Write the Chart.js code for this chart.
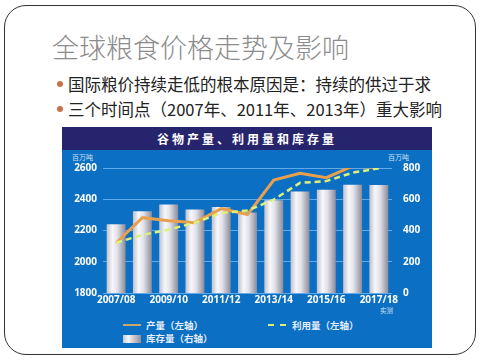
<!DOCTYPE html>
<html>
<head>
<meta charset="utf-8">
<script src="https://cdn.jsdelivr.net/npm/chart.js@4/dist/chart.umd.min.js"></script>
<style>
  body { margin: 0; width: 480px; height: 360px; background: #fff; position: relative; overflow: hidden;
         font-family: "Noto Sans CJK SC", "Noto Sans", sans-serif; }
  .slide { position: absolute; left: 4px; top: 5px; width: 470px; height: 348px;
           border: 1.5px solid #333; border-radius: 22px; }
  .title { position: absolute; left: 52px; top: 27px; font-size: 27px; color: #8c8c8c; font-weight: 300; }
  .bullet { position: absolute; left: 68px; font-size: 16.5px; color: #222; white-space: nowrap; }
  .bullet::before { content: ""; position: absolute; left: -11px; top: 9px; width: 6px; height: 6px;
                    border-radius: 50%; background: #c8734a; }
  .box { position: absolute; left: 62px; top: 127px; width: 370px; height: 221px; background: #0b6fc3; }
  .head { position: absolute; left: 0; top: 0; width: 370px; height: 23px; background: #27246e;
          color: #fff; font-size: 12px; font-weight: bold; text-align: center; line-height: 23px; letter-spacing: 3px; }
  .unit { position: absolute; top: 25px; font-size: 7px; color: #cfe0f5; }
  canvas { position: absolute; left: 0; top: 23px; }
  .leg { position: absolute; font-size: 9.5px; color: #e6eefa; font-weight: bold; white-space: nowrap; }
  .sw { position: absolute; }
</style>
</head>
<body>
<div class="slide"></div>
<div class="title">全球粮食价格走势及影响</div>
<div class="bullet" style="top:72px">国际粮价持续走低的根本原因是：持续的供过于求</div>
<div class="bullet" style="top:97px">三个时间点（2007年、2011年、2013年）重大影响</div>
<div class="box">
  <div class="head">谷物产量、利用量和库存量</div>
  <div class="unit" style="left:10px">百万吨</div>
  <div class="unit" style="left:326px">百万吨</div>
  <div class="unit" style="left:318px;top:178px;font-size:6.5px">实测</div>
  <canvas id="c" width="370" height="168"></canvas>
  <div class="sw" style="left:61px;top:197px;width:18px;height:2px;background:#c9a66a"></div>
  <div class="leg" style="left:84px;top:191px">产量（左轴）</div>
  <div class="sw" style="left:206px;top:197px;width:18px;height:0;border-top:2px dashed #d8f07a"></div>
  <div class="leg" style="left:230px;top:191px">利用量（左轴）</div>
  <div class="sw" style="left:61px;top:208px;width:18px;height:8px;background:linear-gradient(90deg,#c8c8d2,#f6f6fa 30%,#8e8e9c)"></div>
  <div class="leg" style="left:84px;top:204px">库存量（右轴）</div>
</div>
<script>
const years = ['2007/08', '2008/09', '2009/10', '2010/11', '2011/12', '2012/13',
               '2013/14', '2014/15', '2015/16', '2016/17', '2017/18'];
const production = [2120, 2282, 2262, 2250, 2340, 2302, 2523, 2566, 2538, 2612, 2603];
const utilization = [2122, 2172, 2205, 2250, 2312, 2328, 2398, 2505, 2516, 2570, 2598];
const stocks = [440, 523, 566, 534, 551, 516, 594, 650, 661, 693, 692];
const leftTicks = [1800, 2000, 2200, 2400, 2600];
const rightTicks = [0, 200, 400, 600, 800];

const barPct = 0.72;

function barGradient(ctx) {
  const chart = ctx.chart;
  const xs = chart.scales.x;
  if (!chart.chartArea || !xs) return '#d8d8e0';
  const cx = xs.getPixelForValue(ctx.dataIndex);
  const w = xs.width / years.length * barPct;
  const g = chart.ctx.createLinearGradient(cx - w / 2, 0, cx + w / 2, 0);
  g.addColorStop(0, '#bfc0cb');
  g.addColorStop(0.3, '#f7f7fb');
  g.addColorStop(0.55, '#e2e2ea');
  g.addColorStop(1, '#8b8c9a');
  return g;
}

const tickFont = { family: '"Open Sans", sans-serif', size: 10, weight: 'bold' };

new Chart(document.getElementById('c'), {
  type: 'bar',
  data: {
    labels: years,
    datasets: [
      {
        label: '产量（左轴）',
        type: 'line',
        data: production,
        yAxisID: 'y',
        borderColor: '#e9a04e',
        borderWidth: 3,
        pointRadius: 0,
        tension: 0,
        order: 1
      },
      {
        label: '利用量（左轴）',
        type: 'line',
        data: utilization,
        yAxisID: 'y',
        borderColor: '#dcf07c',
        borderWidth: 2.5,
        borderDash: [6, 4],
        pointRadius: 0,
        tension: 0,
        order: 0
      },
      {
        label: '库存量（右轴）',
        data: stocks,
        yAxisID: 'y1',
        backgroundColor: barGradient,
        barPercentage: barPct,
        categoryPercentage: 1,
        order: 3
      }
    ]
  },
  options: {
    responsive: false,
    animation: false,
    layout: { padding: { top: 18 } },
    plugins: { legend: { display: false }, tooltip: { enabled: false } },
    scales: {
      x: {
        grid: { display: false, drawTicks: false },
        border: { display: false },
        afterFit: s => { s.height = 25; },
        ticks: {
          color: '#ffffff', font: tickFont, padding: 1,
          autoSkip: false, maxRotation: 0,
          callback: (v, i) => i % 2 === 0 ? years[i] : ''
        }
      },
      y: {
        position: 'left',
        min: 1800, max: 2600,
        afterFit: s => { s.width = 41; },
        afterBuildTicks: s => { s.ticks = leftTicks.map(v => ({ value: v })); },
        grid: { color: '#5eaaea', lineWidth: 1, drawTicks: false },
        border: { display: false },
        ticks: { color: '#ffffff', font: tickFont, padding: 6, callback: v => String(v) }
      },
      y1: {
        position: 'right',
        min: 0, max: 800,
        afterFit: s => { s.width = 40; },
        afterBuildTicks: s => { s.ticks = rightTicks.map(v => ({ value: v })); },
        grid: { display: false },
        border: { display: false },
        ticks: { color: '#ffffff', font: tickFont, padding: 3, callback: v => String(v) }
      }
    }
  }
});
</script>
</body>
</html>
